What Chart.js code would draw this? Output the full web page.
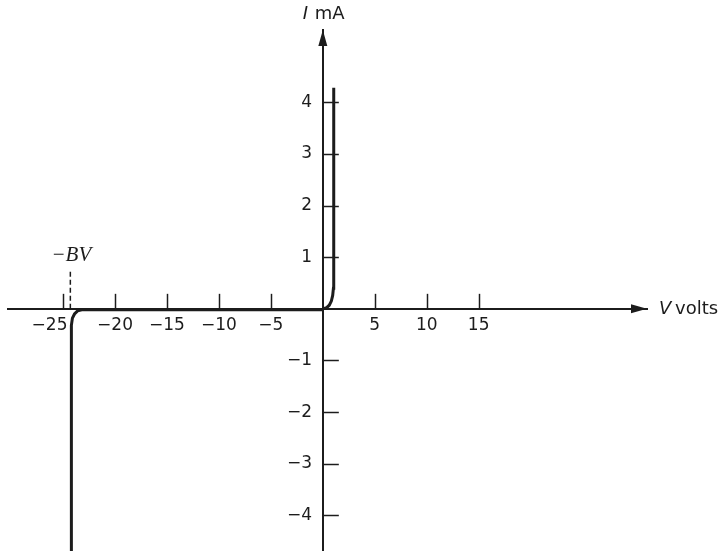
<!DOCTYPE html>
<html>
<head>
<meta charset="utf-8">
<script src="https://cdn.jsdelivr.net/npm/chart.js@4/dist/chart.umd.min.js"></script>
<style>
  body { margin: 0; background: #fff; }
  #wrap { width: 719px; height: 551px; }
</style>
</head>
<body>
<div id="wrap"><canvas id="diode"></canvas></div>
<script>
"use strict";
//---------------- data ----------------
// forward knee + vertical rise (V volts, I mA)
let forwardV = [0, 0.35, 0.62, 0.82, 0.95, 1.02, 1.05, 1.05];
let forwardI = [0, 0.02, 0.07, 0.15, 0.26, 0.4, 1.0, 4.28];
// reverse region along the axis, then breakdown
let reverseV = [0, -23.2, -23.6, -23.9, -24.1, -24.2, -24.2];
let reverseI = [-0.02, -0.02, -0.04, -0.1, -0.18, -0.32, -4.7];
// breakdown voltage marker (dashed)
let bvV = [-24.3, -24.3];
let bvI = [0, 0.75];
// tick labels on the axes
let xTicks = [-25, -20, -15, -10, -5, 5, 10, 15];
let yTicks = [-4, -3, -2, -1, 1, 2, 3, 4];

let ink = "#1c1c1c";

function toPoints(xs, ys) {
  let pts = [];
  for (let i = 0; i < xs.length; i++) {
    pts.push({ x: xs[i], y: ys[i] });
  }
  return pts;
}

//---------------- own plugin: tick marks, arrows, axis titles ----------------
let axisExtras = {
  id: "axisExtras",
  afterDraw(chart) {
    let ctx = chart.ctx;
    let xs = chart.scales.x;
    let ys = chart.scales.y;
    let area = chart.chartArea;
    let ox = xs.getPixelForValue(0);
    let oy = ys.getPixelForValue(0);
    ctx.save();
    ctx.strokeStyle = ink;
    ctx.fillStyle = ink;
    ctx.lineWidth = 1.5;
    // tick marks above x axis
    for (let t of xs.ticks) {
      let px = Math.round(xs.getPixelForValue(t.value)) + 0.5;
      ctx.beginPath();
      ctx.moveTo(px, oy);
      ctx.lineTo(px, oy - 15);
      ctx.stroke();
    }
    // tick marks right of y axis
    for (let t of ys.ticks) {
      let py = Math.round(ys.getPixelForValue(t.value)) + 0.5;
      ctx.beginPath();
      ctx.moveTo(ox, py);
      ctx.lineTo(ox + 16, py);
      ctx.stroke();
    }
    // arrow heads
    ctx.beginPath();
    ctx.moveTo(area.right, oy);
    ctx.lineTo(area.right - 16, oy - 4.5);
    ctx.lineTo(area.right - 16, oy + 4.5);
    ctx.closePath();
    ctx.fill();
    ctx.beginPath();
    ctx.moveTo(ox, area.top);
    ctx.lineTo(ox - 4.5, area.top + 16);
    ctx.lineTo(ox + 4.5, area.top + 16);
    ctx.closePath();
    ctx.fill();
    // axis titles
    ctx.textBaseline = "middle";
    ctx.textAlign = "left";
    ctx.font = "italic 18px 'DejaVu Sans'";
    ctx.fillText("V", area.right + 12, oy);
    ctx.font = "18px 'DejaVu Sans'";
    ctx.fillText("volts", area.right + 28, oy);
    ctx.font = "italic 18px 'DejaVu Sans'";
    ctx.fillText("I", ox - 20, area.top - 16);
    ctx.font = "18px 'DejaVu Sans'";
    ctx.fillText("mA", ox - 8, area.top - 16);
    // -BV label over the dashed marker
    let bx = xs.getPixelForValue(bvV[1]);
    let by = ys.getPixelForValue(bvI[1]);
    ctx.textAlign = "center";
    ctx.font = "italic 21px 'Liberation Serif'";
    ctx.fillText("\u2212BV", bx + 1, by - 15);
    ctx.restore();
  }
};

//---------------- chart ----------------
let tickFont = { family: "'DejaVu Sans'", size: 17 };

function minus(v) {
  return v < 0 ? "\u2212" + Math.abs(v) : String(v);
}

// centred axes should not eat layout space
function noSpace(scale) {
  if (scale.isHorizontal()) scale.height = 0;
  else scale.width = 0;
  scale.paddingTop = 0;
  scale.paddingBottom = 0;
  scale.paddingLeft = 0;
  scale.paddingRight = 0;
}

new Chart(document.getElementById("diode"), {
  type: "scatter",
  data: {
    datasets: [{
      data: toPoints(forwardV, forwardI),
      showLine: true,
      borderColor: ink,
      borderWidth: 3,
      pointRadius: 0
    }, {
      data: toPoints(reverseV, reverseI),
      showLine: true,
      borderColor: ink,
      borderWidth: 3,
      pointRadius: 0
    }, {
      data: toPoints(bvV, bvI),
      showLine: true,
      borderColor: ink,
      borderWidth: 1.5,
      borderDash: [5, 3],
      pointRadius: 0
    }]
  },
  options: {
    responsive: true,
    maintainAspectRatio: false,
    animation: false,
    layout: { padding: { left: 8, right: 72, top: 30, bottom: 0 } },
    plugins: { legend: { display: false }, tooltip: { enabled: false } },
    scales: {
      x: {
        type: "linear",
        position: { y: 0 },
        min: -30.3,
        max: 31.2,
        afterBuildTicks(scale) {
          scale.ticks = xTicks.map(v => ({ value: v }));
        },
        afterFit: noSpace,
        grid: { drawOnChartArea: false, drawTicks: false },
        border: { display: true, color: ink, width: 2 },
        ticks: {
          autoSkip: false,
          maxRotation: 0,
          padding: 7,
          color: ink,
          font: tickFont,
          callback(v) {
            let s = minus(v);
            // -25 sits left of the breakdown line
            if (v === -25) s = s + "     ";
            return s;
          }
        }
      },
      y: {
        type: "linear",
        position: { x: 0 },
        min: -4.69,
        max: 5.4,
        afterBuildTicks(scale) {
          scale.ticks = yTicks.map(v => ({ value: v }));
        },
        afterFit: noSpace,
        grid: { drawOnChartArea: false, drawTicks: false },
        border: { display: true, color: ink, width: 2 },
        ticks: {
          autoSkip: false,
          color: ink,
          font: tickFont,
          callback(v) {
            return minus(v) + "  ";
          }
        }
      }
    }
  },
  plugins: [axisExtras]
});
</script>
</body>
</html>
